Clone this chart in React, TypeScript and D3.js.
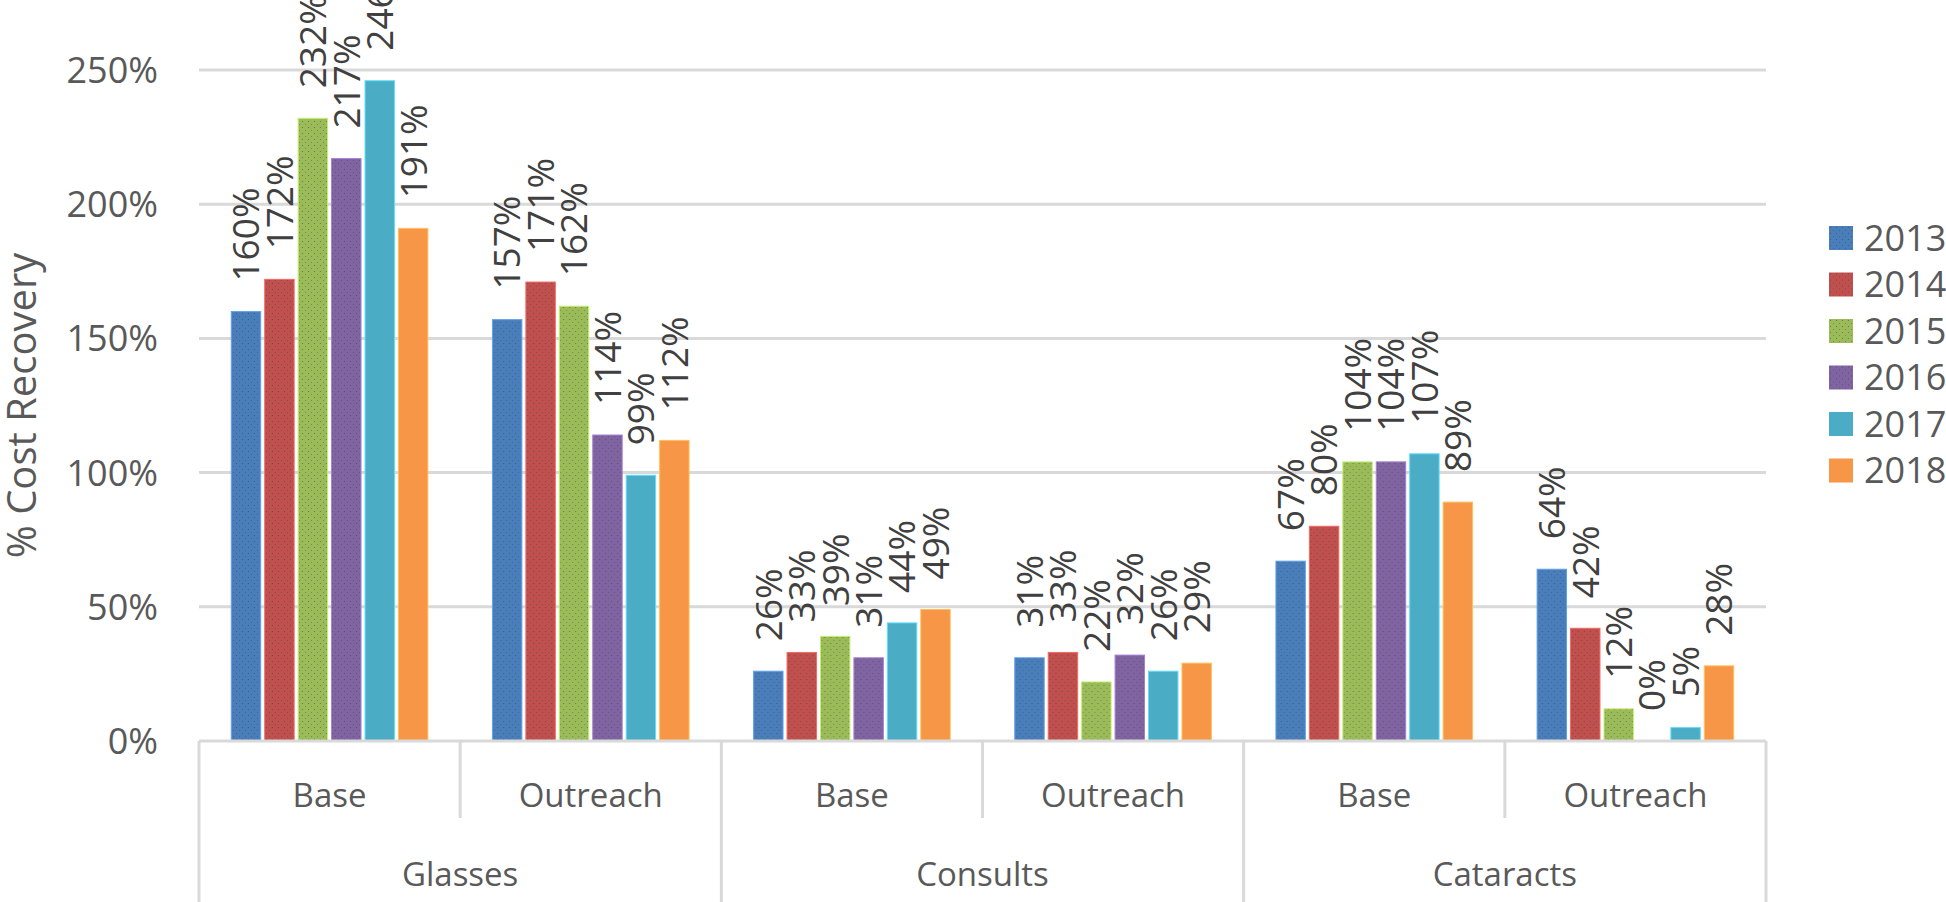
import { useRef, useEffect } from "react";
import * as d3 from "d3";

const groups = ["Glasses", "Consults", "Cataracts"];
const settings = ["Base", "Outreach"];
const years = ["2013", "2014", "2015", "2016", "2017", "2018"];
const yTicks = [0, 50, 100, 150, 200, 250];

// order: Glasses Base, Glasses Outreach, Consults Base, Consults Outreach, Cataracts Base, Cataracts Outreach
const values2013 = [160, 157, 26, 31, 67, 64];
const values2014 = [172, 171, 33, 33, 80, 42];
const values2015 = [232, 162, 39, 22, 104, 12];
const values2016 = [217, 114, 31, 32, 104, 0];
const values2017 = [246, 99, 44, 26, 107, 5];
const values2018 = [191, 112, 49, 29, 89, 28];

const seriesValues = [values2013, values2014, values2015, values2016, values2017, values2018];
const colors = ["#4a7ebb", "#c0504d", "#9bbb59", "#8064a2", "#4bacc6", "#f79646"];
const dotted = [true, true, true, true, false, false];

const width = 1946;
const height = 902;
const left = 199;
const right = 1766;
const top = 70;
const bottom = 741;
const font = "'Open Sans', 'DejaVu Sans', sans-serif";
const grid = "#d9d9d9";

export default function App() {
  const svgRef = useRef<SVGSVGElement>(null);

  useEffect(() => {
    const svg = d3.select(svgRef.current);
    svg.selectAll("*").remove();

    const cells = groups.flatMap((g) => settings.map((s) => `${g}|${s}`));

    const x0 = d3.scaleBand().domain(cells).range([left, right]).padding(0);
    const x1 = d3
      .scaleBand()
      .domain(years)
      .range([0, x0.bandwidth()])
      .paddingInner(0.12)
      .paddingOuter(0.965);
    const y = d3.scaleLinear().domain([0, 250]).range([bottom, top]);
    const gx = d3.scaleBand().domain(groups).range([left, right]).padding(0);

    // dotted fill patterns
    const defs = svg.append("defs");
    years.forEach((yr, i) => {
      if (!dotted[i]) return;
      const p = defs
        .append("pattern")
        .attr("id", `pat${yr}`)
        .attr("patternUnits", "userSpaceOnUse")
        .attr("width", 6)
        .attr("height", 6);
      p.append("rect").attr("width", 6).attr("height", 6).attr("fill", colors[i]);
      p.append("circle").attr("cx", 1.5).attr("cy", 1.5).attr("r", 0.6).attr("fill", "#2a3a3a").attr("opacity", 0.55);
      p.append("circle").attr("cx", 4.5).attr("cy", 4.5).attr("r", 0.6).attr("fill", "#2a3a3a").attr("opacity", 0.4);
    });
    const fillFor = (i: number) => (dotted[i] ? `url(#pat${years[i]})` : colors[i]);

    // gridlines
    svg
      .append("g")
      .selectAll("line")
      .data(yTicks.filter((t) => t > 0))
      .enter()
      .append("line")
      .attr("x1", left)
      .attr("x2", right)
      .attr("y1", (d) => y(d))
      .attr("y2", (d) => y(d))
      .attr("stroke", grid)
      .attr("stroke-width", 3);

    // y tick labels
    svg
      .append("g")
      .selectAll("text")
      .data(yTicks)
      .enter()
      .append("text")
      .attr("x", 158)
      .attr("y", (d) => y(d))
      .attr("dy", "0.36em")
      .attr("text-anchor", "end")
      .attr("font-family", font)
      .attr("font-size", 36)
      .attr("fill", "#595959")
      .text((d) => `${d}%`);

    // y title
    svg
      .append("text")
      .attr("transform", `translate(36, ${(top + bottom) / 2}) rotate(-90)`)
      .attr("text-anchor", "middle")
      .attr("font-family", font)
      .attr("font-size", 40)
      .attr("fill", "#595959")
      .text("% Cost Recovery");

    // bars
    const cellG = svg
      .append("g")
      .selectAll("g")
      .data(cells)
      .enter()
      .append("g")
      .attr("transform", (c) => `translate(${x0(c)},0)`);

    cellG.each(function (c, ci) {
      const g = d3.select(this);
      const rows = years.map((yr, i) => ({ yr, i, v: seriesValues[i][ci] }));
      g.selectAll("rect")
        .data(rows.filter((r) => r.v > 0))
        .enter()
        .append("rect")
        .attr("x", (r) => x1(r.yr)!)
        .attr("y", (r) => y(r.v))
        .attr("width", x1.bandwidth())
        .attr("height", (r) => bottom - y(r.v))
        .attr("fill", (r) => fillFor(r.i))
        .attr("stroke", (r) => d3.color(colors[r.i])!.brighter(0.7).toString())
        .attr("stroke-width", 1);

      g.selectAll("text")
        .data(rows)
        .enter()
        .append("text")
        .attr(
          "transform",
          (r) => `translate(${x1(r.yr)! + x1.bandwidth() / 2}, ${y(r.v) - 30}) rotate(-90)`
        )
        .attr("dy", "0.36em")
        .attr("text-anchor", "start")
        .attr("font-family", font)
        .attr("font-size", 37)
        .attr("fill", "#404040")
        .text((r) => `${r.v}%`);
    });

    // category axis
    svg
      .append("line")
      .attr("x1", left)
      .attr("x2", right)
      .attr("y1", bottom)
      .attr("y2", bottom)
      .attr("stroke", grid)
      .attr("stroke-width", 3);

    const axis = svg.append("g");
    groups.forEach((g) => {
      const gs = gx(g)!;
      axis
        .append("line")
        .attr("x1", gs)
        .attr("x2", gs)
        .attr("y1", bottom)
        .attr("y2", height)
        .attr("stroke", grid)
        .attr("stroke-width", 3);
    });
    axis
      .append("line")
      .attr("x1", right)
      .attr("x2", right)
      .attr("y1", bottom)
      .attr("y2", height)
      .attr("stroke", grid)
      .attr("stroke-width", 3);

    cells.forEach((c) => {
      const [, s] = c.split("|");
      if (s === "Outreach") {
        axis
          .append("line")
          .attr("x1", x0(c)!)
          .attr("x2", x0(c)!)
          .attr("y1", bottom)
          .attr("y2", 818)
          .attr("stroke", grid)
          .attr("stroke-width", 3);
      }
    });

    axis
      .selectAll("text.sub")
      .data(cells)
      .enter()
      .append("text")
      .attr("class", "sub")
      .attr("x", (c) => x0(c)! + x0.bandwidth() / 2)
      .attr("y", 807)
      .attr("text-anchor", "middle")
      .attr("font-family", font)
      .attr("font-size", 33)
      .attr("fill", "#595959")
      .text((c) => c.split("|")[1]);

    axis
      .selectAll("text.grp")
      .data(groups)
      .enter()
      .append("text")
      .attr("class", "grp")
      .attr("x", (g) => gx(g)! + gx.bandwidth() / 2)
      .attr("y", 886)
      .attr("text-anchor", "middle")
      .attr("font-family", font)
      .attr("font-size", 33)
      .attr("fill", "#595959")
      .text((g) => g);

    // legend
    const legend = svg
      .append("g")
      .selectAll("g")
      .data(years)
      .enter()
      .append("g")
      .attr("transform", (_, i) => `translate(1829, ${238 + i * 46.5})`);
    legend
      .append("rect")
      .attr("x", 0)
      .attr("y", -12)
      .attr("width", 24)
      .attr("height", 24)
      .attr("fill", (_, i) => fillFor(i));
    legend
      .append("text")
      .attr("x", 35)
      .attr("dy", "0.36em")
      .attr("font-family", font)
      .attr("font-size", 36)
      .attr("fill", "#595959")
      .text((d) => d);
  }, []);

  return (
    <svg
      ref={svgRef}
      width={width}
      height={height}
      style={{ position: "absolute", left: 0, top: 0, background: "#fff" }}
    />
  );
}
